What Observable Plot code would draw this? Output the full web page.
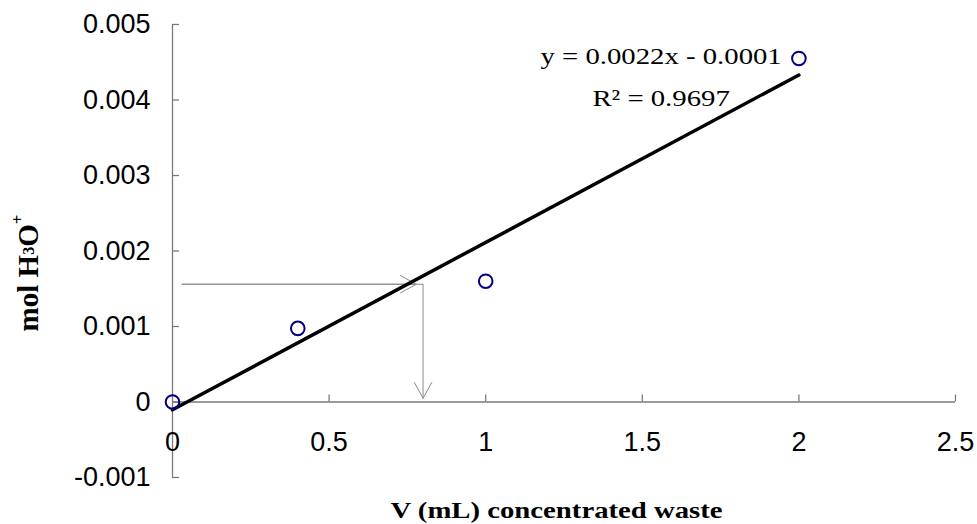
<!DOCTYPE html>
<html><head><meta charset="utf-8">
<script src="https://cdn.jsdelivr.net/npm/d3@7"></script>
<script src="https://cdn.jsdelivr.net/npm/@observablehq/plot@0.6"></script>
<style>body{margin:0;background:#fff}</style>
</head><body><div id="chart"></div>
<script>
// ---- data ----
const volume = [0, 0.4, 1, 2];
const molH3O = [0, 0.000975, 0.0016, 0.00455];
const xTicks = [0, 0.5, 1, 1.5, 2, 2.5];
const xTickLabels = ["0", "0.5", "1", "1.5", "2", "2.5"];
const yTicks = [0.005, 0.004, 0.003, 0.002, 0.001, 0, -0.001];
const yTickLabels = ["0.005", "0.004", "0.003", "0.002", "0.001", "0", "-0.001"];
const readMol = 0.00156;     // horizontal read-off level
const readVolume = 0.8;      // resulting volume
const arrowStartX = 0.03;
const arrowTipX = 0.778;
const arrowEndMol = 0.00005;
const equationLines = ["y = 0.0022x - 0.0001", "R\u00B2 = 0.9697"];
const equationX = [1.56, 1.56];
const equationY = [0.004578, 0.004022];
const xTitle = "V (mL) concentrated waste";
const yTitle = "mol H3O+";

const points = volume.map((v, i) => ({x: v, y: molH3O[i]}));
const eq = equationLines.map((t, i) => ({t, x: equationX[i], y: equationY[i]}));
const sans = "'Liberation Sans', Arial, sans-serif";
const serif = "'Liberation Serif', 'Times New Roman', serif";
const axisColor = "#7a7a7a";
const arrowColor = "#8c8c8c";

const plot = Plot.plot({
  width: 977,
  height: 524,
  marginLeft: 172,
  marginRight: 22,
  marginTop: 24,
  marginBottom: 47,
  x: {domain: [0, 2.5], axis: null},
  y: {domain: [-0.001, 0.005], axis: null},
  marks: [
    // axes lines
    Plot.ruleX([0], {y1: -0.001, y2: 0.005, stroke: axisColor, strokeWidth: 1.3}),
    Plot.ruleY([0], {x1: 0, x2: 2.5, stroke: axisColor, strokeWidth: 1.3}),
    // y ticks (pointing right)
    Plot.ruleY(yTicks, {y: d => d, x1: 0, x2: 0, insetRight: -7, stroke: axisColor, strokeWidth: 1.3}),
    // x ticks (pointing up)
    Plot.ruleX(xTicks.filter(d => d > 0), {x: d => d, y1: 0, y2: 0, insetTop: -7, stroke: axisColor, strokeWidth: 1.3}),
    // tick labels
    Plot.text(yTicks, {x: 0, y: d => d, dx: -22, text: (d, i) => yTickLabels[i], textAnchor: "end",
      fontFamily: sans, fontSize: 27, fill: "#000"}),
    Plot.text(xTicks, {x: d => d, y: 0, dy: 40, text: (d, i) => xTickLabels[i], textAnchor: "middle",
      fontFamily: sans, fontSize: 27, fill: "#000"}),
    // read-off arrows
    Plot.link([{}], {x1: arrowStartX, x2: readVolume, y1: readMol, y2: readMol, stroke: arrowColor, strokeWidth: 1}),
    Plot.arrow([{}], {x1: arrowStartX, x2: arrowTipX, y1: readMol, y2: readMol, stroke: arrowColor, strokeWidth: 1,
      headLength: 27, headAngle: 58}),
    Plot.arrow([{}], {x1: readVolume, x2: readVolume, y1: readMol, y2: arrowEndMol, stroke: arrowColor, strokeWidth: 1,
      headLength: 27, headAngle: 58}),
    // trendline
    Plot.linearRegressionY(points, {x: "x", y: "y", stroke: "#000", strokeWidth: 3.5, ci: 0}),
    // data points
    Plot.dot(points, {x: "x", y: "y", r: 6.8, stroke: "#000080", strokeWidth: 2, fill: "none"}),
    // equation
    Plot.text(eq, {x: "x", y: "y", text: "t", textAnchor: "middle", lineAnchor: "middle",
      fontFamily: serif, fontSize: 23, fill: "#000"}),
    // axis titles
    Plot.text([xTitle], {frameAnchor: "bottom", text: d => d, textAnchor: "middle", lineAnchor: "middle",
      dx: -7.5, dy: 33, fontFamily: serif, fontSize: 23, fontWeight: "bold", fill: "#000"}),
    Plot.text([yTitle], {frameAnchor: "left", text: d => d, textAnchor: "middle", lineAnchor: "middle",
      rotate: -90, dx: -144, dy: 22, fontFamily: serif, fontSize: 29, fontWeight: "bold", fill: "#000"})
  ]
});

// post-processing: horizontal stretch of serif texts, sub/superscripts in y title
const stretchTexts = new Set([...equationLines, xTitle]);
plot.querySelectorAll("text").forEach(t => {
  const s = t.textContent;
  if (stretchTexts.has(s)) {
    t.setAttribute("transform", (t.getAttribute("transform") || "") + " scale(1.25,1)");
  }
  if (s === yTitle) {
    t.textContent = "";
    const parts = [
      {s: "mol H"},
      {s: "3", size: "16px", dy: -4},
      {s: "O", dy: 4},
      {s: "+", size: "17px", dy: -15}
    ];
    for (const p of parts) {
      const ts = document.createElementNS("http://www.w3.org/2000/svg", "tspan");
      ts.textContent = p.s;
      if (p.size) ts.setAttribute("font-size", p.size);
      if (p.dy) ts.setAttribute("dy", p.dy);
      t.appendChild(ts);
    }
  }
});

document.getElementById("chart").appendChild(plot);
</script>
</body></html>
